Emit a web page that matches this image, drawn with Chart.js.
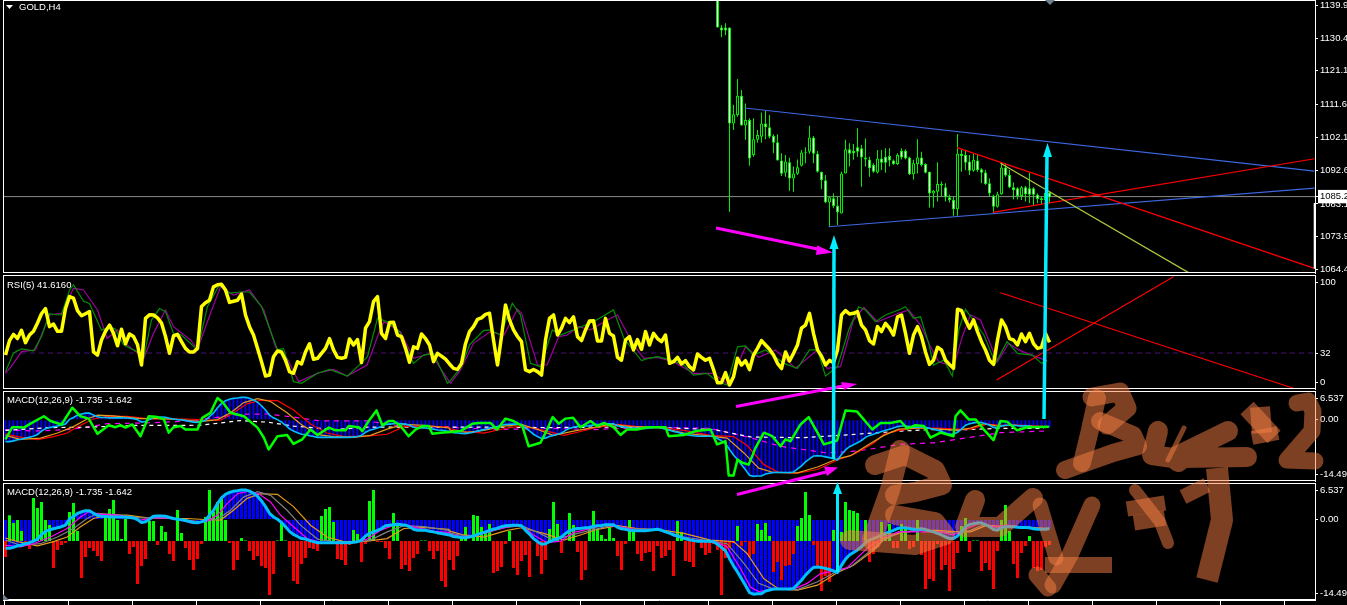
<!DOCTYPE html>
<html><head><meta charset="utf-8"><title>GOLD,H4</title>
<style>html,body{margin:0;padding:0;background:#000;overflow:hidden}canvas{position:absolute;left:0;top:0}</style>
<script src="https://cdn.jsdelivr.net/npm/chart.js@4"></script></head><body>
<script>
// ---------- price pane (first bar of the visible candles = 178)
const firstCandle=178;
const open=[1160,1133.5,1133.5,1133.5,1106.1,1108.5,1114,1105.5,1107.1,1097.1,1101.4,1102.3,1106.1,1105,1102.5,1100.7,1095.5,1092,1095,1090.4,1091.7,1094,1098,1098,1102.1,1097.4,1092.3,1089.9,1083.5,1084.7,1082.6,1080.4,1091.8,1098.7,1098.2,1099.3,1099,1096.4,1095.8,1094.2,1092.1,1096.1,1096.6,1096.8,1095.5,1094.5,1098.3,1098.3,1096.4,1091.6,1094.5,1096.4,1094.5,1092.3,1086.1,1086.6,1088.8,1087.9,1085,1084.2,1081.6,1097.4,1097.1,1095.2,1092.6,1095.5,1093,1092.1,1089,1085.4,1082.3,1085.9,1093.5,1091.4,1087.9,1087.6,1085.4,1087.9,1087.6,1087.6,1085.7,1084.7,1084.2,1086.3];
const close=[1133.5,1132.6,1132.6,1106.1,1108.7,1114,1105.5,1107.1,1096.1,1101.6,1102.8,1106.1,1105,1102.3,1100.6,1095.5,1091.7,1095.2,1090.4,1091.8,1093.6,1097.8,1097.7,1102.1,1097.4,1092.3,1089.9,1083.6,1085,1082.5,1080.7,1091.8,1098.7,1097.4,1097.6,1098,1096.4,1095.8,1093.3,1092.3,1096.1,1094.9,1094.9,1095.5,1094.5,1097.1,1096.4,1096.1,1091.6,1094.7,1096.4,1094.2,1092,1086.1,1086.9,1088.8,1088.4,1085,1084.2,1081.6,1097.4,1096.8,1094.9,1092.6,1095.7,1092.8,1092,1088.8,1086.1,1082.3,1085.9,1093.5,1091.2,1087.9,1087.1,1085.4,1087.9,1085.9,1085.7,1085.7,1084.5,1084.2,1086.3,1085];
const high=[1160,1134.2,1134.7,1133.5,1111.4,1118.8,1115.6,1111.8,1107.6,1107.6,1104.2,1109.2,1109.7,1108.5,1103,1103,1097.6,1097.1,1096.3,1093.8,1095.8,1098.5,1099.3,1105.4,1102.5,1098.2,1092.3,1091.4,1085.2,1086.1,1085.2,1092.3,1101.4,1100.4,1100.2,1104.7,1099.9,1101.8,1096.6,1094.7,1098.5,1098.5,1099,1099,1095.8,1097.6,1099,1098.7,1096.6,1095.7,1101.6,1098,1094.7,1092.3,1087.1,1095,1089.5,1089,1085.7,1085.2,1103.1,1098.5,1098.5,1097.1,1097.4,1097.1,1093.3,1092.8,1090.4,1085.7,1086.6,1094.7,1094.7,1092.8,1089.2,1087.9,1088.2,1088.2,1092,1087.9,1086.1,1085.2,1087.1,1086.6];
const low=[1133.5,1130.7,1131.3,1080.9,1104.2,1108,1105.5,1101.4,1094,1096.6,1100.6,1100.6,1101.6,1101.8,1097.6,1095.5,1091.1,1090.9,1086.9,1086.6,1091.4,1093.8,1094.7,1097.4,1094.7,1092.1,1087.3,1083.3,1076.6,1081.9,1077.1,1080.4,1091.8,1093.8,1095.7,1096.6,1088,1093.8,1090.9,1092,1091.8,1092.8,1092,1093.8,1094.2,1094.2,1095.8,1095.8,1091.4,1090.1,1091.8,1093.8,1091.8,1082,1082.1,1083.8,1085.2,1083.8,1083.5,1079.7,1079.7,1092.3,1092.8,1091.4,1092.3,1092.3,1089,1088.5,1085.2,1080.6,1082.1,1085.7,1090.9,1087.6,1084.4,1084.4,1084.2,1083.8,1083.3,1082.8,1083.3,1083.1,1083.3,1083.3];
const priceTicks=[1139.9,1130.4,1121.1,1111.6,1102.1,1092.6,1083.1,1073.9,1064.4];
const lastPrice=1085.2;
const blueUpper=[[184.75,1110.5],[327.25,1092.5]];
const blueLower=[[205.75,1076.6],[327.25,1087.6]];
const redUpper=[[237.9,1099.2],[327.25,1064.7]];
const redLower=[[246.8,1080.7],[327.25,1096]];
const oliveLine=[[248.75,1094.7],[295.75,1063.5]];

// ---------- RSI pane
const rsiMain=[30,44,50,46,54,42,49.4,53,61,70,75,57.5,60,53,53,75,86.5,85,73,68,70,72,33,30,44.6,53,59,51,39,55,41,50.4,48,40,20.4,65.5,69,68.8,66,61,48,31.7,48.5,50,43,36.5,33,33,36.5,77,80.7,83,96,98,98.4,93,81,82,83,89,68.8,57.5,49.4,36.5,23.6,9.8,10.7,28.5,34,33,25,14,12.4,23.6,21.4,33,41,26,26.9,31.7,36.5,46,35,27.8,26.9,27.8,45.6,39.8,45,22.7,56,62.3,81.7,86.5,51,46,61.4,61.7,49.4,47.8,36.5,23,38,36.5,50.4,46,39.8,23.6,31.7,29,26,21.4,
17.2,16.2,22,41,52.7,57.5,64.6,66,69.4,70.4,44.6,20.4,48,78.4,64,54.3,48,43,15.6,14,16,14,10.7,44.6,65.5,68.8,49.4,56,65.5,61.4,67,47.8,44,54.3,63,63.3,43.6,43.6,65.5,51,48.5,27.8,25,44.6,47.8,35,45,35.6,52.7,39.8,51,46,43,49.4,22,23.6,27.8,21.4,24.6,18.8,15.6,31,27.8,25,26.9,16,3.3,3.3,13,1,9,26.9,20.4,24.6,16,30,36.5,44,39.8,35.6,30,22,17,33,24.3,31.7,39.8,56,59,70.4,51,35,29,20.4,25,22.7,35,68.8,73,69.7,70.4,72,59,54.3,44,40.7,57.5,52.7,60.7,56,49.4,67,
68.8,51,31.7,49.4,57.5,47.8,33,21,25,37.5,35,25,21,17.2,74.3,73,64,56,64,52.7,43,35,25,21,44.6,64,57.5,46,44.6,39.8,50.4,43,51,41,36.5,37.5,51,42.3];
const rsiFast=[[0,14],[2,32],[4,36],[7,34],[9,48],[11,70],[12.5,69],[14,69],[16,93],[17,98],[19.5,82],[21,80],[24,54],[26,57.5],[27.5,55],[29.5,40],[33,33],[34.5,27],[36.5,64],[38.5,75],[40,72],[42,51],[44,49.4],[48,35],[50.5,77],[53.5,98],[56,90],[58.75,91],[61,91],[64,77],[68,35],[69.5,36.5],[72,4.3],[74,2.7],[78,12.4],[81,16.2],[85.5,9.8],[88,18.8],[90.5,28.5],[93,65.5],[95.5,62.3],[98.5,52.7],[102,22],[104.5,30],[107,31.7],[110.5,2.7],[111,4.3],[114,18.8],[116,39.8],[119.5,53.6],[121,54.3],[123.75,49.4],[126.7,80],[128.75,68.8],[131.25,22],[133.75,18.8],[136.7,54.3],[138.75,49.4],[143,56],[147,62.3],[152,73.6],[154.6,46],[159,24.6],[160.8,26.9],[163,28.5],[166.25,25.3],[169.6,20.4],[172,10.7],[175.4,12.4],[178,4.3],[180.4,1],[183,38],[185,38.8],[187,30],[190,35],[194.6,22],[198,17.2],[201,35],[203,35],[205,9.8],[208,18.8],[210.8,54.3],[213.3,76.8],[215,73.6],[217.5,62.3],[220,68.8],[223.75,74.3],[225,76.8],[227,65.5],[228.75,67],[230.8,41.4],[232,20.4],[234.6,25.3],[236.7,9.8],[238.3,54.3],[240,74.3],[244.6,49.4],[247.5,22],[250.4,43],[253,31.7],[256.7,30],[259,22],[260.4,24.6]];
const rsiSlow=[[0,12.4],[2,22],[4,33.3],[7.5,35],[11,68.8],[14,70.4],[17,94.6],[19.5,93],[23,73.6],[25.4,46],[28,54.3],[30.4,39.8],[34.6,26.9],[37,51],[40,73.6],[42,57.5],[46.25,44.6],[48,35.6],[51.25,70.4],[53.75,96],[57,88],[61,93],[64.6,73.6],[67.5,38],[70.4,26.9],[73.3,4.3],[78,12.4],[82,16.2],[85.4,9.8],[90.4,20.4],[93.3,51],[94.6,62.3],[98.75,52.7],[102,26.9],[106.25,31.7],[110.4,7.5],[111.25,2.7],[113.75,15.6],[117,41.4],[121.25,52.7],[124.6,49.4],[128,74.3],[129,70.4],[133,20.4],[135.4,20.4],[138.3,47.8],[140.4,49.4],[143.3,57.5],[146.25,54.3],[150.4,64],[153,68.8],[157,39.8],[159.6,26.9],[163,27.8],[167,23.6],[172,12.4],[177,12.4],[180.8,1],[185,38],[188.3,27.8],[192.5,35],[197.5,17.2],[203,35],[205.4,17.2],[208.75,18.8],[212,64],[214.6,76],[218,62.3],[223.3,70.4],[225.8,73.6],[228.75,59],[231.25,38],[233.3,23.6],[237,18.8],[239.2,47.8],[241.25,68.8],[243.75,64],[248,23.6],[250.8,41.4],[253.3,35],[258,27.8],[260.4,24.6]];
const rsiLevel=32;
const rsiTickValues=[100,32,3.7], rsiTickLabels=['100','32','0'];
const rsiRedDown=[[248.75,90.3],[322,-2.1]];
const rsiRedUp=[[247.75,5.9],[292,105.8]];

// ---------- MACD values, shared by both MACD panes
const macdMain=[-5.6,-5.6,-5.4,-5.1,-5,-4.7,-4.5,-4.2,-3.8,-2.9,-2.3,-2,-1.8,-1.6,-1.4,-1.1,.1,.6,1.2,1.5,1.7,1.7,1.2,.8,.6,.6,.5,.5,.5,.5,.45,.4,.3,0,-.6,-.45,.05,.65,.7,.7,.65,.4,.2,.05,-.05,-.2,-.4,-.6,-.65,-.45,-.15,.85,1.75,3.1,4.2,4.9,5.25,5.5,5.6,5.75,5.75,5.5,5.1,4.5,3.6,2.5,1.2,.5,.05,-.6,-1.4,-2.3,-2.9,-3.3,-3.7,-3.8,-4.1,-4.3,-4.5,-4.5,-4.5,-4.5,-4.5,-4.5,-4.5,-4.5,-4.5,-4.4,-4.3,-4,-3.2,-2.7,-2.4,-2.1,-1.75,-1.2,-1.1,-1,-.9,-1,-1.1,-1.4,-1.9,-2.1,-2.1,-2.1,-2.3,-2.4,-2.6,-2.7,-2.85,-3,
-3.3,-3.4,-3.5,-3.55,-3.4,-3.2,-2.9,-2.65,-2.4,-2.1,-1.9,-1.7,-1.4,-1.2,-1.15,-1.1,-1.1,-1.2,-2.1,-2.85,-3.7,-4.3,-4.8,-4.7,-4.3,-4,-3.7,-3.4,-2.7,-2.2,-1.9,-1.75,-1.7,-1.6,-1.55,-1.3,-1.2,-1.15,-1,-1,-1,-1.5,-1.8,-1.9,-2.1,-2.2,-2.2,-2.2,-2.2,-2.1,-2,-1.9,-2.1,-2.4,-2.65,-3,-3.2,-3.5,-3.75,-3.95,-4.1,-4.2,-4.2,-4.2,-4.2,-4.3,-4.8,-5.4,-6.1,-7.6,-9,-10.2,-11.5,-12.8,-14.2,-14.5,-14.4,-14.4,-13.9,-13.7,-13.5,-13.5,-13.5,-13.5,-13.5,-13.4,-12.6,-11.8,-10.8,-10,-9.3,-9.2,-9.3,-9.5,-9.7,-10,-10.3,-8.9,-7.7,-6.9,-6.4,-5.9,-5.3,-4.5,-4,-3.7,-3.4,-3,-2.7,-2.4,-2.1,-1.75,
-1.6,-1.6,-1.75,-1.9,-1.9,-1.8,-1.95,-2.2,-2.4,-2.7,-3,-3.4,-3.7,-3.7,-3.2,-2.4,-1.4,-1,-.8,-.65,-.7,-1,-1.4,-1.95,-2.1,-1.6,-1.4,-1.4,-1.4,-1.5,-1.55,-1.55,-1.6,-1.8,-1.9,-1.9,-1.9,-1.73];
const signalFast=[[0,-5],[3.75,-5.3],[7,-4.7],[11.25,-3.4],[15.4,-1.75],[18.75,.5],[20.8,1.5],[23.75,1],[28,.85],[33.75,-.1],[37,.3],[40.4,.3],[43.75,-.1],[47,-.8],[50.4,-.3],[53,.85],[55.4,3.1],[58,5],[60.8,5.5],[63.3,5],[66.25,3.4],[68.75,.85],[72,-1.4],[75.4,-3.7],[78.75,-4.5],[86.25,-4.5],[90.4,-3.8],[93.75,-2.1],[97,-1.1],[100.4,-1.1],[103.75,-1.75],[107,-2.3],[110.8,-2.5],[111.25,-2.9],[114.6,-3.4],[118.75,-2.9],[123,-1.9],[127,-1.2],[129,-1.2],[132,-3],[135.4,-4.5],[138.75,-4.2],[142,-2.5],[145.4,-1.9],[149.6,-1.1],[153.75,-1.4],[158,-2.1],[163.75,-1.9],[168,-3.4],[172,-4],[177,-4.2],[180.4,-5.3],[183.75,-9.5],[186.25,-13.1],[188.3,-14],[192,-13.5],[197,-13.5],[200.4,-12.4],[203.75,-10.5],[207,-10],[210.4,-9.4],[213,-7.4],[215.4,-5.6],[219.6,-3.4],[223.3,-2.4],[228.75,-2.4],[233.75,-2.4],[237,-3],[240.4,-1.75],[243.75,-.65],[247,-1.4],[250.4,-1.1],[257,-1.75],[260.8,-1.9]];
const signalMid=[[0,-4],[3.75,-5],[8.75,-4.7],[13,-3.4],[17,-1.75],[20.4,.2],[23,1.2],[27,1],[33.75,.3],[38.75,.3],[43.75,.05],[48.75,-.45],[53,.05],[56.25,1.8],[59.6,4.4],[63,5.4],[66.25,4.7],[70.4,1.8],[73.75,-1.1],[78,-3.8],[82,-4.3],[87,-4.5],[91.25,-4],[95.4,-2.4],[99.6,-1.2],[104.6,-1.4],[110.8,-2.1],[111.25,-2.7],[115.4,-3.2],[119.6,-2.7],[124.6,-1.6],[129,-1.2],[133,-2.5],[137,-4],[142,-2.9],[146.25,-2.1],[151.25,-1.2],[156.25,-1.75],[163,-1.9],[169.6,-3.4],[176.25,-4.2],[180.4,-4.7],[184.6,-8.5],[188.3,-12.4],[192,-13.5],[198,-13.6],[203,-12.1],[208,-10],[211.25,-9.2],[215.4,-6.6],[219.6,-4],[223.3,-2.4],[228.75,-2.1],[233.75,-2.4],[238,-2.7],[241.25,-2.1],[244.6,-1],[248,-1.6],[252,-1.4],[257,-1.75],[260.8,-1.9]];
const signalSlow=[[0,-3.6],[3,-4.3],[8,-5.1],[12,-4.3],[15.4,-3.4],[18.75,-1.4],[22,.2],[25.4,.85],[30.4,.85],[35.4,.3],[40.4,.2],[45.4,.2],[49.6,0],[53.75,-.1],[57,1.8],[60.4,4.1],[63.75,5],[68,4.9],[72,2.5],[76.25,-1.1],[80.4,-3.4],[84.6,-4.3],[90.4,-4.2],[95.4,-3.7],[99.6,-1.75],[104.6,-1.55],[110.8,-1.9],[111.25,-2.3],[114.6,-3],[119.6,-3.4],[125.4,-2.1],[129,-1.6],[134.6,-2.7],[139.6,-4],[143.75,-3],[148,-1.9],[153,-1.2],[158,-1.75],[164.6,-2.1],[169.6,-2.7],[176.25,-4],[182,-4.3],[185.4,-6.6],[189.6,-11.5],[193.3,-13.5],[198,-13.7],[203,-12.75],[208,-10.3],[212,-8.9],[217,-6],[219.6,-3.7],[223.3,-2.7],[228,-2.1],[233,-2.1],[238,-2.4],[241.25,-2.4],[245.4,-1.1],[248.75,-1.4],[252,-1.3],[260.8,-1.75]];
const momentumLine=[[0,-5],[1.7,-1.9],[3,-1.9],[4.6,-2],[6.25,-1],[9.6,.9],[11.25,-.3],[14,-1.2],[16.7,3.1],[18.75,.9],[20.8,.3],[23,-3.6],[25.8,-1.4],[27.5,-1.9],[28.75,-1.4],[30,-2],[31.7,-1.2],[33.75,-4.2],[35.8,.9],[38,.7],[39.6,.1],[40.8,-3.3],[42,-1.9],[43.75,-1.6],[45,-2.5],[48,-2.5],[49.2,.5],[51.25,1.8],[53,5.6],[54.2,4.6],[56.25,1.8],[59.6,.9],[63,-2],[64.6,-4.6],[65.8,-7.6],[68,-4.2],[70.4,-3.9],[72,-6.2],[74.2,-5],[76.25,-2.5],[78,-3.9],[80.8,-2],[82.5,-2.7],[85,-2.7],[85.8,-1.6],[88.3,-1.9],[89.2,-2.9],[90.8,-.3],[92.75,2.4],[94.2,-1.4],[95.8,-.3],[97,-.3],[98.75,-1.6],[100.8,-4.2],[102.5,-2.5],[104.2,-1.6],[105.8,-1.6],[106.7,-3.6],[108.75,-3.3],[111.25,-3.1],[113.75,-2.9],[116.7,-1],[118.3,-.8],[121.25,-.8],[122.9,-2.5],[125,.3],[127,-.3],[129.2,-1.6],[130.8,-6.8],[133.75,-5.9],[135.4,-2.5],[136.8,.7],[138.3,-1],[140,.3],[141.9,.5],[143.75,-1.9],[146.25,-.3],[147.9,-1.6],[149.6,-.8],[152,-1.9],[153.75,-3.9],[155.4,-2.5],[157.9,-2.5],[160.4,-1.9],[165,-1.9],[165.8,-4.2],[169.6,-3.9],[172.5,-2.9],[176.25,-2.5],[177.9,-6.3],[180,-5.5],[180.8,-14.3],[182,-14.3],[183,-10.2],[184.2,-11],[185.8,-11.5],[187.5,-7.2],[189.6,-3.3],[191.7,-4.2],[193.75,-6.8],[195,-5],[196.25,-5.5],[198.75,-1.2],[200.8,.7],[203,-3.3],[204.6,-6.3],[207.9,-5.3],[210,2.4],[212.9,2.1],[216.7,-2.5],[218.75,-.8],[221.25,-.8],[223.75,-.3],[225.4,-2.2],[227.5,-1.4],[229.6,-1.6],[231.25,-4.6],[233.75,-3.3],[237,-4.2],[237.5,.9],[238.75,2.4],[240.8,.1],[242.5,.1],[244.6,-2.5],[247,-5.2],[248.75,-.3],[250.4,-.5],[252.9,-2.7],[255.4,-1.9],[260.8,-1.8]];
const dashedMagenta=[[0,-2.5],[7,-2.9],[15.4,-2.5],[20.4,-1.9],[25.4,-1],[35.4,-.8],[45.4,-.3],[52,.5],[58.75,1.4],[65.4,1.5],[72,.7],[78.75,-.3],[90.4,-.3],[98.75,-1.6],[110.8,-1.9],[122,-2.5],[136.25,-2.2],[147,-2.5],[161.25,-1.9],[176.25,-2.2],[186.25,-4.6],[193.75,-6.8],[205.4,-8.5],[213,-8],[223.75,-6.3],[232,-5.9],[240.4,-4.6],[248.75,-3.3],[259.6,-2.9]];
const dashedWhite=[[0,-2.7],[11.25,-2],[20.4,-1.9],[32,-1.45],[48.75,-1.4],[58.75,-.2],[65.4,-.6],[72,-1.6],[82,-2.5],[90.4,-1.9],[110.8,-1.9],[123.75,-1.9],[136.25,-2],[147,-1.9],[161.25,-1.9],[177,-2.5],[186.25,-4.4],[198.75,-4.6],[211.25,-3.8],[223.75,-2.9],[232,-2.5],[240.4,-2.5],[248.75,-2.2],[259.6,-2.2]];
const osmaBars=[-16,25.7,18,21,10,-2,-8,43,33,39,21,16,-27,-9,-4,-2,29,38,10,-37,-16,-7,-10,-15,-20,24,32,41,21,2,22,-13,-6,-43,-25,-18,20,20,-4,15,9,-13,-20,31,8,-7,-19,-29,-18,-3,24,51,29,39,42,21,-2,-29,-19,3,.5,-10,-19,-15,-25,-27,-54,-33,.5,18,.5,-16,-40,-43,-23,-17,-7,-8,-10,25,32,34,19,-18,-19,-24,-4,11,7,-21,-3,40,51,-1,-1,-7,-18,28,17,-28,-24,-30,-17,-13,.5,.5,-10,-18,-10,-40,-46,-19,
-29,-15,2,14,0,26,25,14,10,17,-32,-30,-26,-3,10,-27,-34,-20,-14,-36,0,-15,-33,-19,12,39,17,-12,0,28,16,-11,-39,-29,12,30,12,6,2,14,3,-15,-29,-3,21,12,-13,-20,-12,-11,-30,-5,-17,-15,-9,-35,20,9,-20,-21,-26,0,-7,-14,-12,-3,-9,-54,-17,-7,-2,15,-5,-1,-16,-13,17,11,18,5,-31,-21,-39,-25,-24,-13,15,23,49,26,-4,-26,-50,-35,-41,11,0,9,39,31,30,28,0,21,-21,-13,-6,19,9,17,-7,-7,
17,12,-8,-6,21,-14,-48,-38,-40,-3,-29,-24,-50,-28,-12,15,23,-11,.5,.5,-30,-22,-29,-48,-10,21,36,10,-23,-37,-12,-5,5,-27,-30,-29,-6,-4];
const macdTickValues1=[5.4,0,-14.1], macdTickValues2=[5.64,0,-14.4], macdTickLabels=['6.537','0.00','-14.497'];
const timeTickStart=-.25, timeTickCount=21, timeTickStep=16;

// ---------- drawn-on-top annotations, in window units
const arrowPinkA=[[716,228],[820,249.5]], arrowPinkAHead=[[817,245.5],[833,252.5],[816,255],[817,245.5]];
const arrowPinkB=[[736,406.5],[843,386]], arrowPinkBHead=[[841,382],[857,384],[844,390],[841,382]];
const arrowPinkC=[[737,494.5],[826,472]], arrowPinkCHead=[[824,466.5],[838,467.5],[827,476],[824,466.5]];
const arrowCyanA=[[833.5,459],[834,248]], arrowCyanAHead=[[829.5,249],[834,235],[838.5,249],[829.5,249]];
const arrowCyanB=[[1044,419],[1047,156]], arrowCyanBHead=[[1043,157],[1047.5,143],[1052,157],[1043,157]];
const arrowCyanC=[[837.5,572],[837.5,493]], arrowCyanCHead=[[833,494],[837.5,482],[842,494],[833,494]];
const markerTop=[[1045,0],[1055,0],[1050,5],[1045,0]], markerBottom=[[3,594],[3,600],[9,600],[3,594]], titleMarker=[[6,5],[13,5],[9.5,9],[6,5]];
const G=NaN; // pen lifted
const brushBuy2=[
 {w:18,p:[[1097,398],[1090,430],[1082,463]]},
 {w:19,p:[[1092,397],[1120,392],[1127,408],[1107,425]]},
 {w:18,p:[[1100,421],[1133,435],[1138,446],[1113,453],[1065,470]]},
 {w:20,p:[[1158,431],[1152,455],[1173,458],[1228,431],[1228,G],[1195,450],[1178,462],[1178,G],[1180,458],[1247,457]]},
 {w:5,p:[[1184,428],[1168,460]]},
 {w:18,c:'butt',p:[[1247,408],[1274,437]]},
 {w:20,c:'butt',p:[[1260,407],[1262,433]]},
 {w:14,c:'butt',p:[[1252,438],[1278,433]]},
 {w:17,p:[[1297,403],[1308,401],[1313,411],[1312,431],[1287,460],[1315,461]]}];
const brushBuy1=[
 {w:20,p:[[900,450],[890,490],[872,540]]},
 {w:20,p:[[875,465],[905,455],[935,470],[942,485],[915,492],[895,495]]},
 {w:20,p:[[895,515],[935,522],[945,535],[915,545],[850,540]]},
 {w:20,p:[[975,500],[965,527],[1000,527],[1033,498]]},
 {w:17,p:[[1092,505],[1070,555],[1053,585]]},
 {w:16,c:'butt',p:[[1045,565],[1112,565]]},
 {w:15,p:[[1040,505],[1056,558]]},
 {w:17,p:[[1037,575],[1048,588]]},
 {w:15,c:'butt',p:[[1127,509],[1165,503]]},
 {w:15,c:'butt',p:[[1134,523],[1165,518]]},
 {w:12,p:[[1135,490],[1160,522],[1168,543]]},
 {w:15,c:'butt',p:[[1183,497],[1207,485]]},
 {w:22,c:'butt',p:[[1217,468],[1222,520],[1207,580]]}];

// ---------- helpers
const W=1347,H=605,FONT={family:'"Liberation Sans"',size:9.5};
const AX_W=32;
const xDomain={min:-.625,max:327.375};
const pts=a=>a.map(([x,y])=>({x,y}));
const series=a=>a.map((y,x)=>({x,y}));
const line=(data,color,width,extra={})=>({type:'line',data:pts(data),borderColor:color,borderWidth:width,pointRadius:0,tension:0,fill:false,...extra});
const bars=(data,color,thick,extra={})=>({type:'bar',data,backgroundColor:color,barThickness:thick,borderWidth:0,inflateAmount:0,stack:'one',...extra});
function paint(list){list.forEach((d,i)=>d.order=list.length-i);return list;}
function yAxis(min,max,values,labels,extra={}){return {type:'linear',position:'right',min,max,stacked:false,
  afterFit:s=>{s.width=AX_W;s.paddingTop=0;s.paddingBottom=0;},
  afterBuildTicks:s=>{s.ticks=values.map(value=>({value}));},
  border:{color:'#fff',width:1},
  grid:{drawOnChartArea:false,color:'#fff',tickLength:3},
  ticks:{color:'#fff',padding:2,autoSkip:false,maxRotation:0,font:FONT,callback:(v,i)=>labels[i],...extra}};}
function pane(top,bottom,title,titleX,titleY,datasets,scales){
  const c=document.createElement('canvas');c.width=W;c.height=H;document.body.appendChild(c);
  return new Chart(c,{type:'bar',data:{datasets:paint(datasets)},options:{responsive:false,animation:false,devicePixelRatio:1,
    events:[],layout:{padding:{left:3,right:0,top,bottom:H-bottom}},
    plugins:{legend:{display:false},tooltip:{enabled:false}},
    scales:{x:{type:'linear',display:false,offset:false,...xDomain},...scales}},
    plugins:[{id:'paneFrame',afterDraw(ch){const a=ch.chartArea,g=ch.ctx;g.save();g.strokeStyle='#fff';g.lineWidth=1;
      g.strokeRect(a.left+.5,a.top+.5,a.right-a.left,a.bottom-a.top-1);
      g.fillStyle='#fff';g.font=`${FONT.size}px ${FONT.family}`;g.textBaseline='middle';g.fillText(title,titleX,titleY);g.restore();}}]});
}

// ---------- price pane
const candles=open.map((o,i)=>({x:firstCandle+i,o,c:close[i],h:high[i],l:low[i]}));
const wicks=candles.map(k=>({x:k.x,y:[k.l,k.h]}));
const bodies=candles.map(k=>({x:k.x,y:[Math.min(k.o,k.c),Math.max(k.o,k.c)],up:k.c>k.o}));
const priceTickAll=[...priceTicks,lastPrice];
const priceLabels=priceTickAll.map(v=>v.toFixed(1));
const priceAxis=yAxis(1063.39,1141.33,priceTickAll,priceLabels,{
  color:c=>c.tick&&c.tick.value===lastPrice?'#000':'#fff',
  showLabelBackdrop:c=>!!(c.tick&&c.tick.value===lastPrice),
  backdropColor:'#fff',backdropPadding:{left:2,right:30,top:1,bottom:1},z:1});
pane(0,273,'GOLD,H4',19,7,[
  line([[xDomain.min,lastPrice],[xDomain.max,lastPrice]],'#8a8a8a',1),
  bars(wicks,'#00f000',1),
  bars(bodies,c=>c.raw&&c.raw.up?'#000':'#fff',3,{borderColor:'#00f000',borderWidth:1,borderSkipped:false}),
  line(blueUpper,'#3d66e0',1.2),line(blueLower,'#3d66e0',1.2),
  line(redUpper,'#ff0000',1.2),line(redLower,'#ff0000',1.2),
  line(oliveLine,'#b4c83c',1.2),
  line([[327.3,1083.4],[327.3,1064.6]],'#fff',2)
],{y:priceAxis});

// ---------- RSI pane
pane(275,389,'RSI(5) 41.6160',7,285,[
  line([[xDomain.min,rsiLevel],[xDomain.max,rsiLevel]],'#4b0f78',1,{borderDash:[5,4]}),
  line(rsiSlow,'#a000a0',1.2),line(rsiFast,'#009000',1.2),
  {...line([],'#ffff00',3.5,{borderJoinStyle:'round'}),data:series(rsiMain)},
  line(rsiRedDown,'#ff0000',1.2),line(rsiRedUp,'#ff0000',1.2)
],{y:yAxis(-2.8,107.45,rsiTickValues,rsiTickLabels)});

// ---------- MACD pane 1
const macdBars=series(macdMain);
pane(391,481,'MACD(12,26,9) -1.735 -1.642',7,400,[
  bars(macdBars,'#0000ff',2),
  line(dashedMagenta,'#ff00ff',1.2,{borderDash:[5,5]}),
  line(dashedWhite,'#ffffff',1.2,{borderDash:[4,4]}),
  line(signalSlow,'#ff0000',1.2),
  line(signalMid,'#e69a1e',1.2),
  {...line([],'#00bfff',1.6),data:series(macdMain)},
  line(momentumLine,'#00ff00',2.5,{borderJoinStyle:'round'})
],{y:yAxis(-15.69,7.38,macdTickValues1,macdTickLabels)});

// ---------- MACD pane 2
const osma=series(osmaBars);
pane(483,H,'MACD(12,26,9) -1.735 -1.642',7,492,[
  bars(macdBars,'#0000ff',3),
  bars(osma,c=>c.raw&&c.raw.y>=0?'#00ff00':'#ff0000',3,{yAxisID:'y2'}),
  line(signalSlow,'#e69a1e',1.2),
  line(signalMid,'#808080',1.2),
  line(signalFast,'#ff00ff',1.2),
  {...line([],'#00bfff',3,{borderJoinStyle:'round'}),data:series(macdMain)}
],{y:yAxis(-15.63,7.09,macdTickValues2,macdTickLabels),
   y2:{type:'linear',display:false,stacked:false,min:-59,max:58},
   x:{type:'linear',display:true,position:'bottom',offset:false,...xDomain,
     afterFit:s=>{s.height=5;s.paddingLeft=0;s.paddingRight=0;},
     afterBuildTicks:s=>{const t=[];for(let k=0;k<timeTickCount;k++)t.push({value:timeTickStart+k*timeTickStep});s.ticks=t;},
     border:{color:'#fff'},grid:{offset:false,drawOnChartArea:false,color:'#fff',tickLength:5},ticks:{display:false,autoSkip:false}}});

// ---------- overlay with arrows and brush strokes
const shape=(p,color)=>line(p,color,0,{fill:'shape',backgroundColor:color,borderWidth:0});
const BRUSH='rgba(250,128,68,.5)';
const brush=s=>line(s.p,BRUSH,s.w,{borderCapStyle:s.c||'round',borderJoinStyle:'round'});
const ov=document.createElement('canvas');ov.width=W;ov.height=H;document.body.appendChild(ov);
new Chart(ov,{type:'line',data:{datasets:paint([
  line(arrowPinkA,'#ff00ff',3),shape(arrowPinkAHead,'#ff00ff'),
  line(arrowPinkB,'#ff00ff',3),shape(arrowPinkBHead,'#ff00ff'),
  line(arrowPinkC,'#ff00ff',3),shape(arrowPinkCHead,'#ff00ff'),
  line(arrowCyanA,'#00eeff',3.5),shape(arrowCyanAHead,'#00eeff'),
  line(arrowCyanB,'#00eeff',3.5),shape(arrowCyanBHead,'#00eeff'),
  line(arrowCyanC,'#00eeff',3),shape(arrowCyanCHead,'#00eeff'),
  shape(markerTop,'#708090'),shape(markerBottom,'#708090'),shape(titleMarker,'#ffffff'),
  ...brushBuy2.map(brush),...brushBuy1.map(brush)
])},options:{responsive:false,animation:false,devicePixelRatio:1,events:[],
  layout:{padding:0},plugins:{legend:{display:false},tooltip:{enabled:false}},
  scales:{x:{type:'linear',display:false,min:0,max:W},y:{type:'linear',display:false,min:0,max:H,reverse:true}}}});
</script></body></html>
